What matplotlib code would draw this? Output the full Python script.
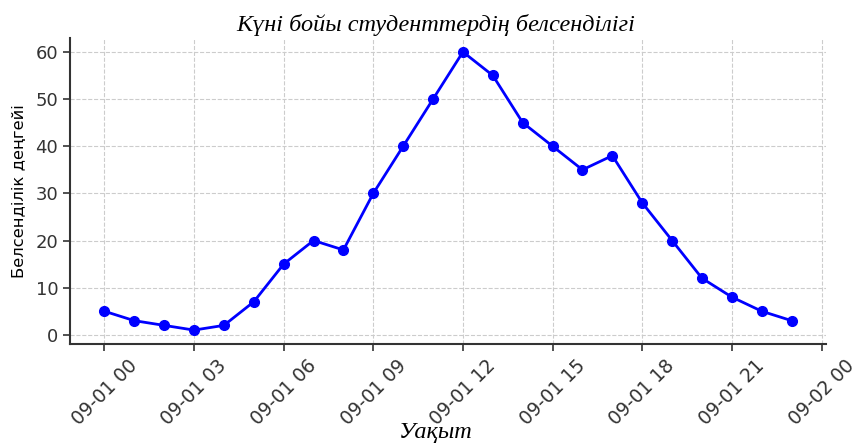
import matplotlib
matplotlib.use("Agg")
import matplotlib.pyplot as plt
import matplotlib.dates as mdates
import pandas as pd

times = pd.date_range("2023-09-01 00:00", periods=24, freq="h")
activity = [5, 3, 2, 1, 2, 7, 15, 20, 18, 30, 40, 50, 60, 55, 45, 40, 35, 38, 28, 20, 12, 8, 5, 3]
title = "Күні бойы студенттердің белсенділігі"
xlabel = "Уақыт"
ylabel = "Белсенділік деңгейі"

fig = plt.figure(figsize=(8.58, 4.45), dpi=100)
ax = fig.add_axes([70/858, 1-344/445, (826-70)/858, (344-38)/445])
ax.plot(times, activity, color="blue", marker="o", linewidth=2, markersize=7)
ax.set_title(title, fontfamily="Liberation Serif", fontstyle="italic", fontsize=17.5, pad=5, x=0.484)
ax.set_xlabel(xlabel, fontfamily="Liberation Serif", fontstyle="italic", fontsize=17.5, labelpad=-5, x=0.484)
ax.set_ylabel(ylabel, fontsize=11.8, labelpad=6)
ax.xaxis.set_major_locator(mdates.HourLocator(byhour=range(0, 24, 3)))
ax.xaxis.set_major_formatter(mdates.DateFormatter("%m-%d %H"))
ax.set_xlim(times[0] - pd.Timedelta(hours=1.15), times[-1] + pd.Timedelta(hours=1.15))
ax.set_yticks([0, 10, 20, 30, 40, 50, 60])
plt.setp(ax.get_xticklabels(), rotation=45, ha="center")
ax.tick_params(axis="x", labelsize=13.5)
ax.tick_params(axis="y", labelsize=13)
ax.tick_params(colors="#333333", width=1.2, length=5)
ax.grid(True, linestyle="--", color="#cccccc", linewidth=0.8)
for s in ["top", "right"]:
    ax.spines[s].set_visible(False)
for s in ["left", "bottom"]:
    ax.spines[s].set_color("#333333")
    ax.spines[s].set_linewidth(1.5)
fig.savefig("out.png", dpi=100)
